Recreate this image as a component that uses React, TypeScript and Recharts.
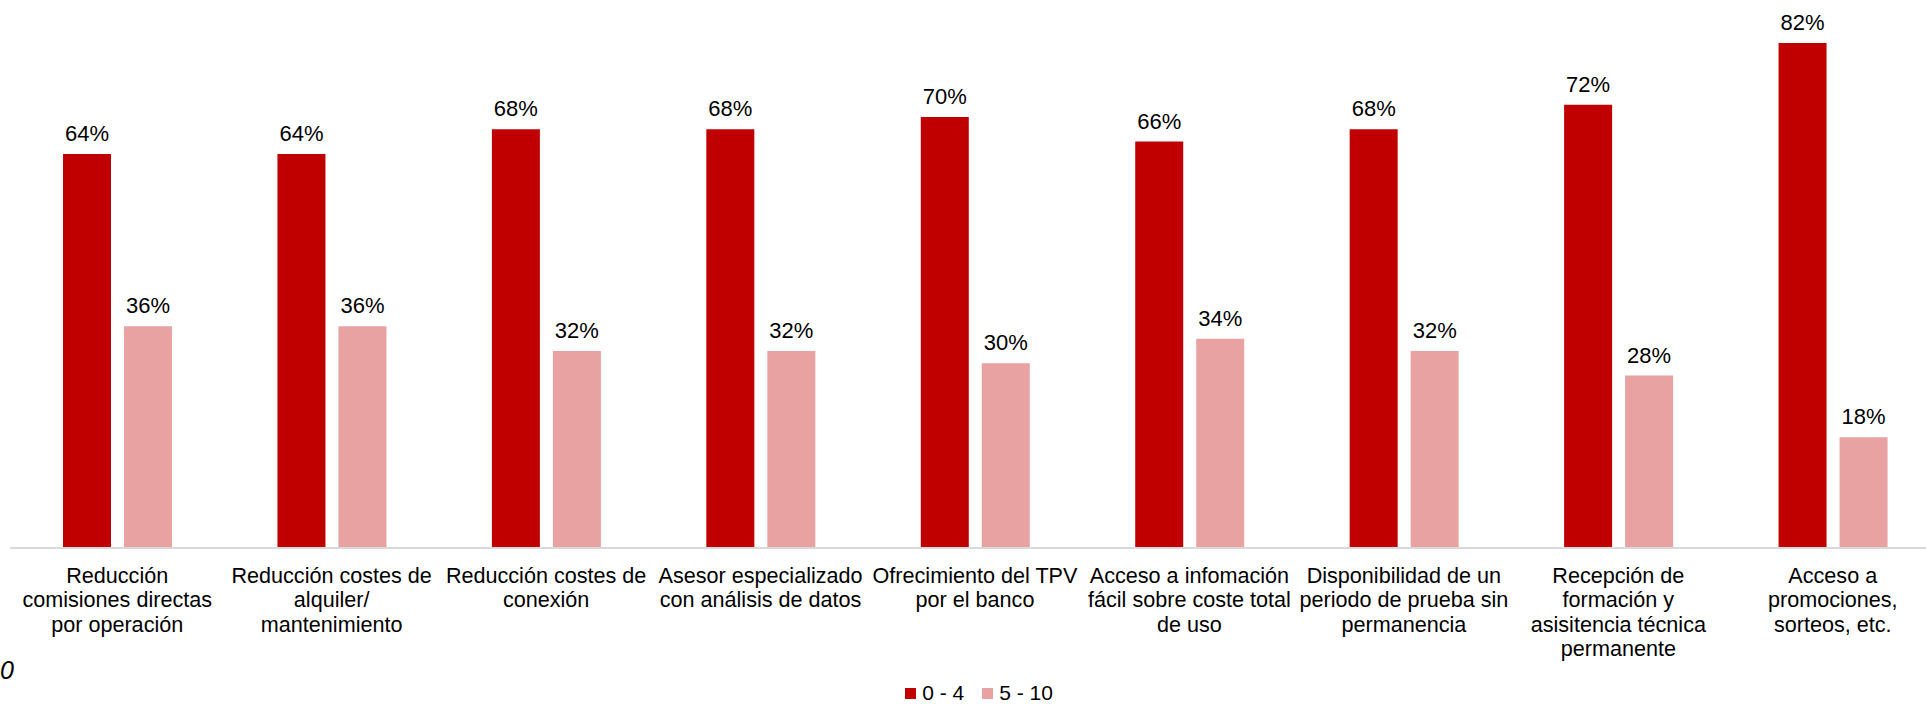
import React from 'react';
import { BarChart, Bar, XAxis, YAxis, LabelList, Legend } from 'recharts';

const categories = [
  ['Reducción', 'comisiones directas', 'por operación'],
  ['Reducción costes de', 'alquiler/', 'mantenimiento'],
  ['Reducción costes de', 'conexión'],
  ['Asesor especializado', 'con análisis de datos'],
  ['Ofrecimiento del TPV', 'por el banco'],
  ['Acceso a infomación', 'fácil sobre coste total', 'de uso'],
  ['Disponibilidad de un', 'periodo de prueba sin', 'permanencia'],
  ['Recepción de', 'formación y', 'asisitencia técnica', 'permanente'],
  ['Acceso a', 'promociones,', 'sorteos, etc.'],
];

const low = [64, 64, 68, 68, 70, 66, 68, 72, 82];
const high = [36, 36, 32, 32, 30, 34, 32, 28, 18];

const seriesNames = ['0 - 4', '5 - 10'];
const seriesColors = ['#C00000', '#E8A2A2'];

const data = categories.map((lines, i) => ({
  name: lines.join(' '),
  low: low[i],
  high: high[i],
}));

const FONT = '"Liberation Sans", Arial, sans-serif';

function CategoryTick(props: any) {
  const { x, y, payload } = props;
  const lines = categories[payload.index] || [];
  return (
    <text x={x} y={y + 35} textAnchor="middle" fontSize={21.6} fill="#000" fontFamily={FONT}>
      {lines.map((l, i) => (
        <tspan key={i} x={x} dy={i === 0 ? 0 : 24.3}>
          {l}
        </tspan>
      ))}
    </text>
  );
}

function TopLabel(props: any) {
  const { x, y, width, value } = props;
  return (
    <text x={x + width / 2} y={y - 13} textAnchor="middle" fontSize={22} fill="#000" fontFamily={FONT}>
      {value}%
    </text>
  );
}

function LegendContent() {
  return (
    <div style={{ display: 'flex', justifyContent: 'center', paddingTop: 3, paddingLeft: 8, fontFamily: FONT, fontSize: 21, lineHeight: '24px', color: '#000' }}>
      {seriesNames.map((n, i) => (
        <div key={n} style={{ display: 'flex', alignItems: 'center', marginRight: i === 0 ? 18 : 0 }}>
          <span style={{ display: 'inline-block', width: 11, height: 11, background: seriesColors[i], marginRight: 6, marginTop: 1 }} />
          <span>{n}</span>
        </div>
      ))}
    </div>
  );
}

export default function App() {
  return (
    <div style={{ position: 'fixed', left: 0, top: 0, width: 1926, height: 706, overflow: 'hidden', background: '#fff', fontFamily: FONT }}>
      <BarChart
        width={1940}
        height={706}
        data={data}
        margin={{ top: 0, right: 0, left: 10, bottom: 0 }}
        barSize={48}
        barGap={13}
      >
        <XAxis
          dataKey="name"
          interval={0}
          tickLine={false}
          tickSize={0}
          tickMargin={0}
          height={130}
          axisLine={{ stroke: '#d9d9d9', strokeWidth: 2 }}
          tick={<CategoryTick />}
        />
        <YAxis hide domain={[0, 89]} />
        <Legend verticalAlign="bottom" height={28} content={<LegendContent />} />
        <Bar dataKey="low" name={seriesNames[0]} fill={seriesColors[0]} isAnimationActive={false}>
          <LabelList dataKey="low" content={<TopLabel />} />
        </Bar>
        <Bar dataKey="high" name={seriesNames[1]} fill={seriesColors[1]} isAnimationActive={false}>
          <LabelList dataKey="high" content={<TopLabel />} />
        </Bar>
      </BarChart>
      <div style={{ position: 'absolute', left: 0, top: 655, fontSize: 25, fontStyle: 'italic', lineHeight: '30px', color: '#000' }}>0</div>
    </div>
  );
}
